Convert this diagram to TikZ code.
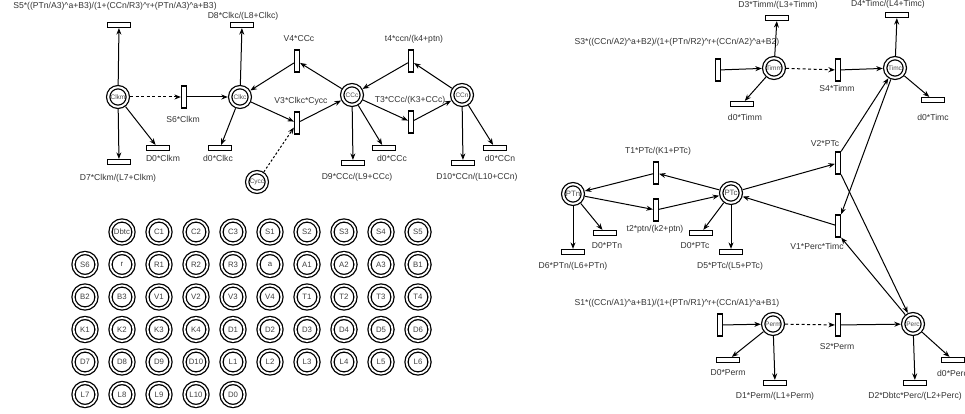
\documentclass[tikz,border=0pt]{standalone}
\usepackage{fontspec}
\setmainfont{Liberation Sans}
\usetikzlibrary{arrows.meta}
\begin{document}
\begin{tikzpicture}[x=1pt,y=-1pt,
 place/.style={circle,draw,double,double distance=2.0pt,line width=1.25pt,minimum size=19.6pt,inner sep=0pt,outer sep=2.4pt,font=\fontsize{6.5}{7}\selectfont,text=black!70},
 bigplace/.style={place,font=\fontsize{7.8}{8}\selectfont},
 par/.style={circle,draw,double,double distance=1.8pt,line width=1.3pt,minimum size=23pt,inner sep=0pt,font=\fontsize{7.8}{9}\selectfont,text=black!75},
 vtr/.style={rectangle,draw,fill=white,line width=1.2pt,minimum width=5pt,minimum height=22pt,inner sep=0pt,outer sep=0.6pt},
 htr/.style={rectangle,draw,fill=white,line width=1.2pt,minimum width=23pt,minimum height=5pt,inner sep=0pt,outer sep=0.6pt},
 lab/.style={font=\fontsize{8.6}{10}\selectfont,text=black!80,inner sep=0pt},
 arr/.style={-{Stealth[length=6.5pt,width=5pt]},line width=1pt},
 darr/.style={arr,dash pattern=on 3pt off 2.5pt},
]
\useasboundingbox (0,0) rectangle (965,414);
% ---------------- left network ----------------
\node[place] (Clkm) at (118,97) {Clkm};
\node[place] (Clkc) at (240,97) {Clkc};
\node[place] (Cycc) at (257,182) {Cycc};
\node[place] (CCc) at (352,95) {CCc};
\node[place] (CCn) at (462,95) {CCn};
\node[htr] (rS5) at (119,25) {};
\node[htr] (rD7) at (119,162) {};
\node[htr] (rD0m) at (158,148) {};
\node[vtr] (tS6) at (184,97) {};
\node[htr] (rD8) at (242,25) {};
\node[htr] (rd0c) at (220,148) {};
\node[vtr] (tV4) at (297,61) {};
\node[vtr] (tV3) at (297,123) {};
\node[vtr] (tt4) at (411,61) {};
\node[vtr] (tT3) at (411,122) {};
\node[htr] (rD9) at (353,163) {};
\node[htr] (rd0CCc) at (384,148) {};
\node[htr] (rD10) at (463,163) {};
\node[htr] (rd0CCn) at (495,148) {};
\node[lab] (lS5) at (115,6) {S5*((PTn/A3)\textasciicircum a+B3)/(1+(CCn/R3)\textasciicircum r+(PTn/A3)\textasciicircum a+B3)};
\node[lab] (lD8) at (243,16.5) {D8*Clkc/(L8+Clkc)};
\node[lab] (lD7) at (118,178) {D7*Clkm/(L7+Clkm)};
\node[lab] (lD0m) at (163,158) {D0*Clkm};
\node[lab] (ld0c) at (218,158) {d0*Clkc};
\node[lab] (lS6) at (183,119) {S6*Clkm};
\node[lab] (lV4) at (299,39) {V4*CCc};
\node[lab] (lV3) at (301,101) {V3*Clkc*Cycc};
\node[lab] (lt4) at (414,39) {t4*ccn/(k4+ptn)};
\node[lab] (lT3) at (410,100) {T3*CCc/(K3+CCc)};
\node[lab] (lD9) at (357,177) {D9*CCc/(L9+CCc)};
\node[lab] (ld0CCc) at (392,158) {d0*CCc};
\node[lab] (lD10) at (477,177) {D10*CCn/(L10+CCn)};
\node[lab] (ld0CCn) at (500,158) {d0*CCn};
\draw[arr] (Clkm) -- (rS5);
\draw[arr] (Clkm) -- (rD7);
\draw[arr] (Clkm) -- (rD0m);
\draw[darr] (Clkm) -- (tS6);
\draw[arr] (tS6) -- (Clkc);
\draw[arr] (Clkc) -- (rD8);
\draw[arr] (Clkc) -- (rd0c);
\draw[arr] (tV4) -- (Clkc);
\draw[arr] (CCc) -- (tV4);
\draw[arr] (Clkc) -- (tV3);
\draw[arr] (tV3) -- (CCc);
\draw[arr,dash pattern=on 2.2pt off 2pt] (Cycc) -- (tV3);
\draw[arr] (CCn) -- (tt4);
\draw[arr] (tt4) -- (CCc);
\draw[arr] (CCc) -- (tT3);
\draw[arr] (tT3) -- (CCn);
\draw[arr] (CCc) -- (rD9);
\draw[arr] (CCc) -- (rd0CCc);
\draw[arr] (CCn) -- (rD10);
\draw[arr] (CCn) -- (rd0CCn);
% ---------------- right network ----------------
\node[place] (Timm) at (774,68) {Timm};
\node[place] (Timc) at (895,68) {Timc};
\node[bigplace] (PTn) at (573,194) {PTn};
\node[bigplace] (PTc) at (731,193) {PTc};
\node[place] (Perm) at (773,324) {Perm};
\node[place] (Perc) at (913,324) {Perc};
\node[htr] (rD3) at (777,18) {};
\node[vtr] (src3) at (718,70) {};
\node[vtr] (tS4) at (838,70) {};
\node[htr] (rD4) at (897,15) {};
\node[htr] (rd0Timm) at (742,104) {};
\node[htr] (rd0Timc) at (933,100) {};
\node[vtr] (tT1) at (656,173) {};
\node[vtr] (tt2) at (656,210) {};
\node[vtr] (tV2) at (838,163) {};
\node[vtr] (tV1) at (838,226) {};
\node[htr] (rD0PTn) at (605,233) {};
\node[htr] (rD6) at (573,252) {};
\node[htr] (rD0PTc) at (701,233) {};
\node[htr] (rD5) at (731,252) {};
\node[vtr] (src1) at (720,325) {};
\node[vtr] (tS2) at (838,325) {};
\node[htr] (rD0Perm) at (728,360) {};
\node[htr] (rD1) at (775,383) {};
\node[htr] (rD2) at (915,383) {};
\node[htr] (rd0Perc) at (953,360) {};
\node[lab] (lD3) at (778,5) {D3*Timm/(L3+Timm)};
\node[lab] (lD4) at (888,4) {D4*Timc/(L4+Timc)};
\node[lab] (lS3) at (677,42) {S3*((CCn/A2)\textasciicircum a+B2)/(1+(PTn/R2)\textasciicircum r+(CCn/A2)\textasciicircum a+B2)};
\node[lab] (lS4) at (837,88) {S4*Timm};
\node[lab] (ld0Timm) at (745,117) {d0*Timm};
\node[lab] (ld0Timc) at (933,117) {d0*Timc};
\node[lab] (lT1) at (658,151) {T1*PTc/(K1+PTc)};
\node[lab] (lt2) at (655,229) {t2*ptn/(k2+ptn)};
\node[lab] (lV2) at (825,144) {V2*PTc};
\node[lab] (lV1) at (817,246) {V1*Perc*Timc};
\node[lab] (lD0PTn) at (607,246) {D0*PTn};
\node[lab] (lD6) at (573,266) {D6*PTn/(L6+PTn)};
\node[lab] (lD0PTc) at (695,246) {D0*PTc};
\node[lab] (lD5) at (730,266) {D5*PTc/(L5+PTc)};
\node[lab] (lS1) at (677,303) {S1*((CCn/A1)\textasciicircum a+B1)/(1+(PTn/R1)\textasciicircum r+(CCn/A1)\textasciicircum a+B1)};
\node[lab] (lS2) at (837,347) {S2*Perm};
\node[lab] (lD0Perm) at (728,373) {D0*Perm};
\node[lab] (lD1) at (775,396) {D1*Perm/(L1+Perm)};
\node[lab] (lD2) at (915,396) {D2*Dbtc*Perc/(L2+Perc)};
\node[lab,anchor=west] (ld0Perc) at (937,373) {d0*Perc};
\draw[arr] (src3) -- (Timm);
\draw[arr] (Timm) -- (rD3);
\draw[arr] (Timm) -- (rd0Timm);
\draw[darr] (Timm) -- (tS4);
\draw[arr] (tS4) -- (Timc);
\draw[arr] (Timc) -- (rD4);
\draw[arr] (Timc) -- (rd0Timc);
\draw[arr] (PTc) -- (tT1);
\draw[arr] (tT1) -- (PTn);
\draw[arr] (PTn) -- (tt2);
\draw[arr] (tt2) -- (PTc);
\draw[arr] (PTn) -- (rD6);
\draw[arr] (PTn) -- (rD0PTn);
\draw[arr] (PTc) -- (rD5);
\draw[arr] (PTc) -- (rD0PTc);
\draw[arr] (PTc) -- (tV2);
\draw[arr] (tV2.north east) -- (Timc);
\draw[arr] (tV2.south east) -- (Perc);
\draw[arr] (Timc) -- (tV1.north east);
\draw[arr] (Perc) -- (tV1.south east);
\draw[arr] (tV1) -- (PTc);
\draw[arr] (src1) -- (Perm);
\draw[darr] (Perm) -- (tS2);
\draw[arr] (tS2) -- (Perc);
\draw[arr] (Perm) -- (rD0Perm);
\draw[arr] (Perm) -- (rD1);
\draw[arr] (Perc) -- (rD2);
\draw[arr] (Perc) -- (rd0Perc);
% ---------------- parameter places ----------------
\foreach \n [count=\i] in {Dbtc,C1,C2,C3,S1,S2,S3,S4,S5}
  \node[par] (g\n) at (85+37*\i,232) {\n};
\foreach \n [count=\i from 0] in {S6,r,R1,R2,R3,a,A1,A2,A3,B1}
  \node[par] (g\n) at (85+37*\i,264.5) {\n};
\foreach \n [count=\i from 0] in {B2,B3,V1,V2,V3,V4,T1,T2,T3,T4}
  \node[par] (g\n) at (85+37*\i,297) {\n};
\foreach \n [count=\i from 0] in {K1,K2,K3,K4,D1,D2,D3,D4,D5,D6}
  \node[par] (g\n) at (85+37*\i,329.5) {\n};
\foreach \n [count=\i from 0] in {D7,D8,D9,D10,L1,L2,L3,L4,L5,L6}
  \node[par] (g\n) at (85+37*\i,362) {\n};
\foreach \n [count=\i from 0] in {L7,L8,L9,L10,D0}
  \node[par] (g\n) at (85+37*\i,394.5) {\n};
\end{tikzpicture}
\end{document}
